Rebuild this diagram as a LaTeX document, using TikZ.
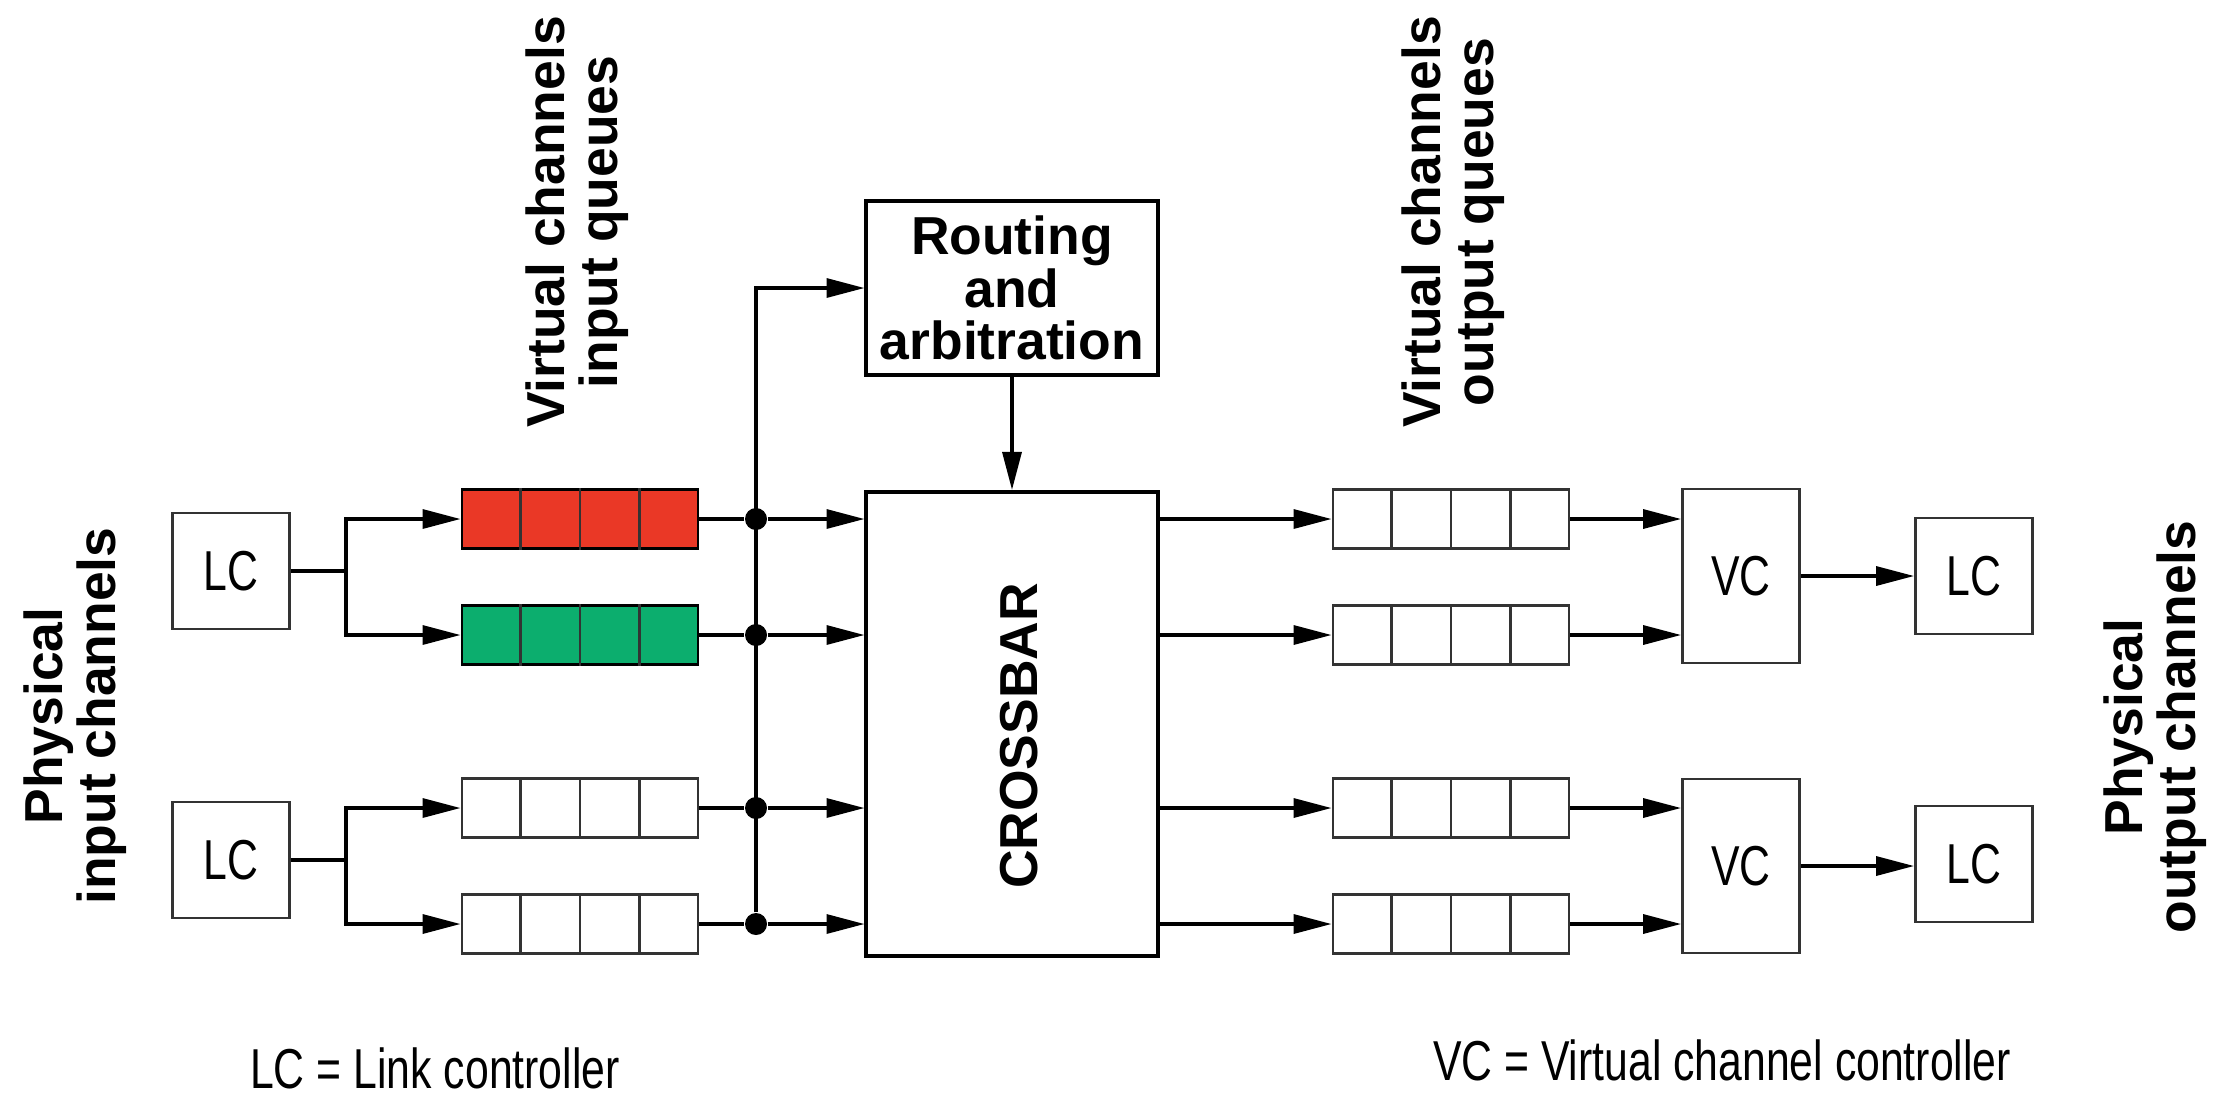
\documentclass[tikz,border=0pt]{standalone}
\usepackage{fontspec}
\setmainfont{Liberation Sans}
\newfontfamily\narrowfont[FakeStretch=0.76]{Liberation Sans}
\usetikzlibrary{arrows.meta,calc}

\definecolor{qred}{RGB}{234,56,38}
\definecolor{qgreen}{RGB}{12,174,110}

\tikzset{
  box/.style={draw=black!80, line width=0.8pt, minimum width=1.17cm,
    minimum height=1.16cm, font=\narrowfont\fontsize{16}{16}\selectfont},
  bigbox/.style={draw, line width=1.1pt, minimum width=2.91cm},
  queue/.style={draw=black!80, line width=0.8pt, minimum width=2.36cm,
    minimum height=0.59cm},
  wire/.style={line width=0.95pt},
  flow/.style={wire, -{Triangle[length=10.8pt,width=5.4pt]}},
  junction/.style={circle, fill, inner sep=0pt, minimum size=0.22cm},
  heading/.style={font=\bfseries\fontsize{15.2}{15}\selectfont, align=center},
  key/.style={font=\narrowfont\fontsize{16}{16}\selectfont, inner sep=1pt},
}

\begin{document}
\begin{tikzpicture}[x=0.01cm, y=-0.01cm]
    \useasboundingbox (0,0) rectangle (2218,1096);

    % input side
    \node[box] (lcin1) at (231,571) {LC};
    \node[box] (lcin2) at (231,860) {LC};
    \node[queue, fill=qred, draw=black] (qin1) at (580,519) {};
    \node[queue, fill=qgreen, draw=black] (qin2) at (580,635) {};
    \node[queue] (qin3) at (580,808) {};
    \node[queue] (qin4) at (580,924) {};

    % routing and crossbar
    \node[bigbox, minimum height=1.74cm, heading] (route) at (1012,288)
	{Routing\\and\\arbitration};
    \node[bigbox, minimum height=4.64cm] (xbar) at (1012,724) {};
    \node[heading, rotate=90] (xbarlabel) at (1019,736) {CROSSBAR};

    % output side
    \node[queue] (qout1) at (1451,519) {};
    \node[queue] (qout2) at (1451,635) {};
    \node[queue] (qout3) at (1451,808) {};
    \node[queue] (qout4) at (1451,924) {};
    \node[box, minimum height=1.74cm] (vc1) at (1741,576) {VC};
    \node[box, minimum height=1.74cm] (vc2) at (1741,866) {VC};
    \node[box] (lcout1) at (1974,576) {LC};
    \node[box] (lcout2) at (1974,864) {LC};

    % queue cells
    \foreach \q in {qin1,qin2,qin3,qin4,qout1,qout2,qout3,qout4}
	\foreach \k in {1,2,3}
	    \draw[draw=black!80, line width=0.8pt]
		($(\q.north west)!\k/4!(\q.north east)$)
		-- ($(\q.south west)!\k/4!(\q.south east)$);

    % links to input queues
    \coordinate (fork1) at (346,571);
    \coordinate (fork2) at (346,860);
    \draw[wire] (lcin1) -- (fork1);
    \draw[wire] (lcin2) -- (fork2);
    \draw[flow] (fork1) |- (qin1);
    \draw[flow] (fork1) |- (qin2);
    \draw[flow] (fork2) |- (qin3);
    \draw[flow] (fork2) |- (qin4);

    % bus into the crossbar
    \coordinate (bus) at (756,283);
    \foreach \i in {1,...,4} {
	\node[junction] (j\i) at (bus |- qin\i) {};
	\draw[wire] (qin\i) -- (j\i);
	\draw[flow] (j\i) -- (xbar.west |- j\i);
    }
    \draw[flow] (j4) |- (route);
    \draw[flow] (route) -- (xbar);

    % crossbar to output
    \foreach \i in {1,...,4}
	\draw[flow] (xbar.east |- qout\i) -- (qout\i);
    \draw[flow] (qout1) -- (vc1.west |- qout1);
    \draw[flow] (qout2) -- (vc1.west |- qout2);
    \draw[flow] (qout3) -- (vc2.west |- qout3);
    \draw[flow] (qout4) -- (vc2.west |- qout4);
    \draw[flow] (vc1) -- (lcout1.west |- vc1);
    \draw[flow] (vc2) -- (lcout2.west |- vc2);

    % labels
    \node[heading, rotate=90] (vcin) at (577,222) {Virtual channels\\input queues};
    \node[heading, rotate=90] (vcout) at (1453,222) {Virtual channels\\output queues};
    \node[heading, rotate=90] (phyin) at (75,716) {Physical\\input channels};
    \node[heading, rotate=90] (phyout) at (2155,727) {Physical\\output channels};
    \node[key] (keylc) at (435,1068) {LC = Link controller};
    \node[key] (keyvc) at (1722,1060) {VC = Virtual channel controller};
\end{tikzpicture}
\end{document}
